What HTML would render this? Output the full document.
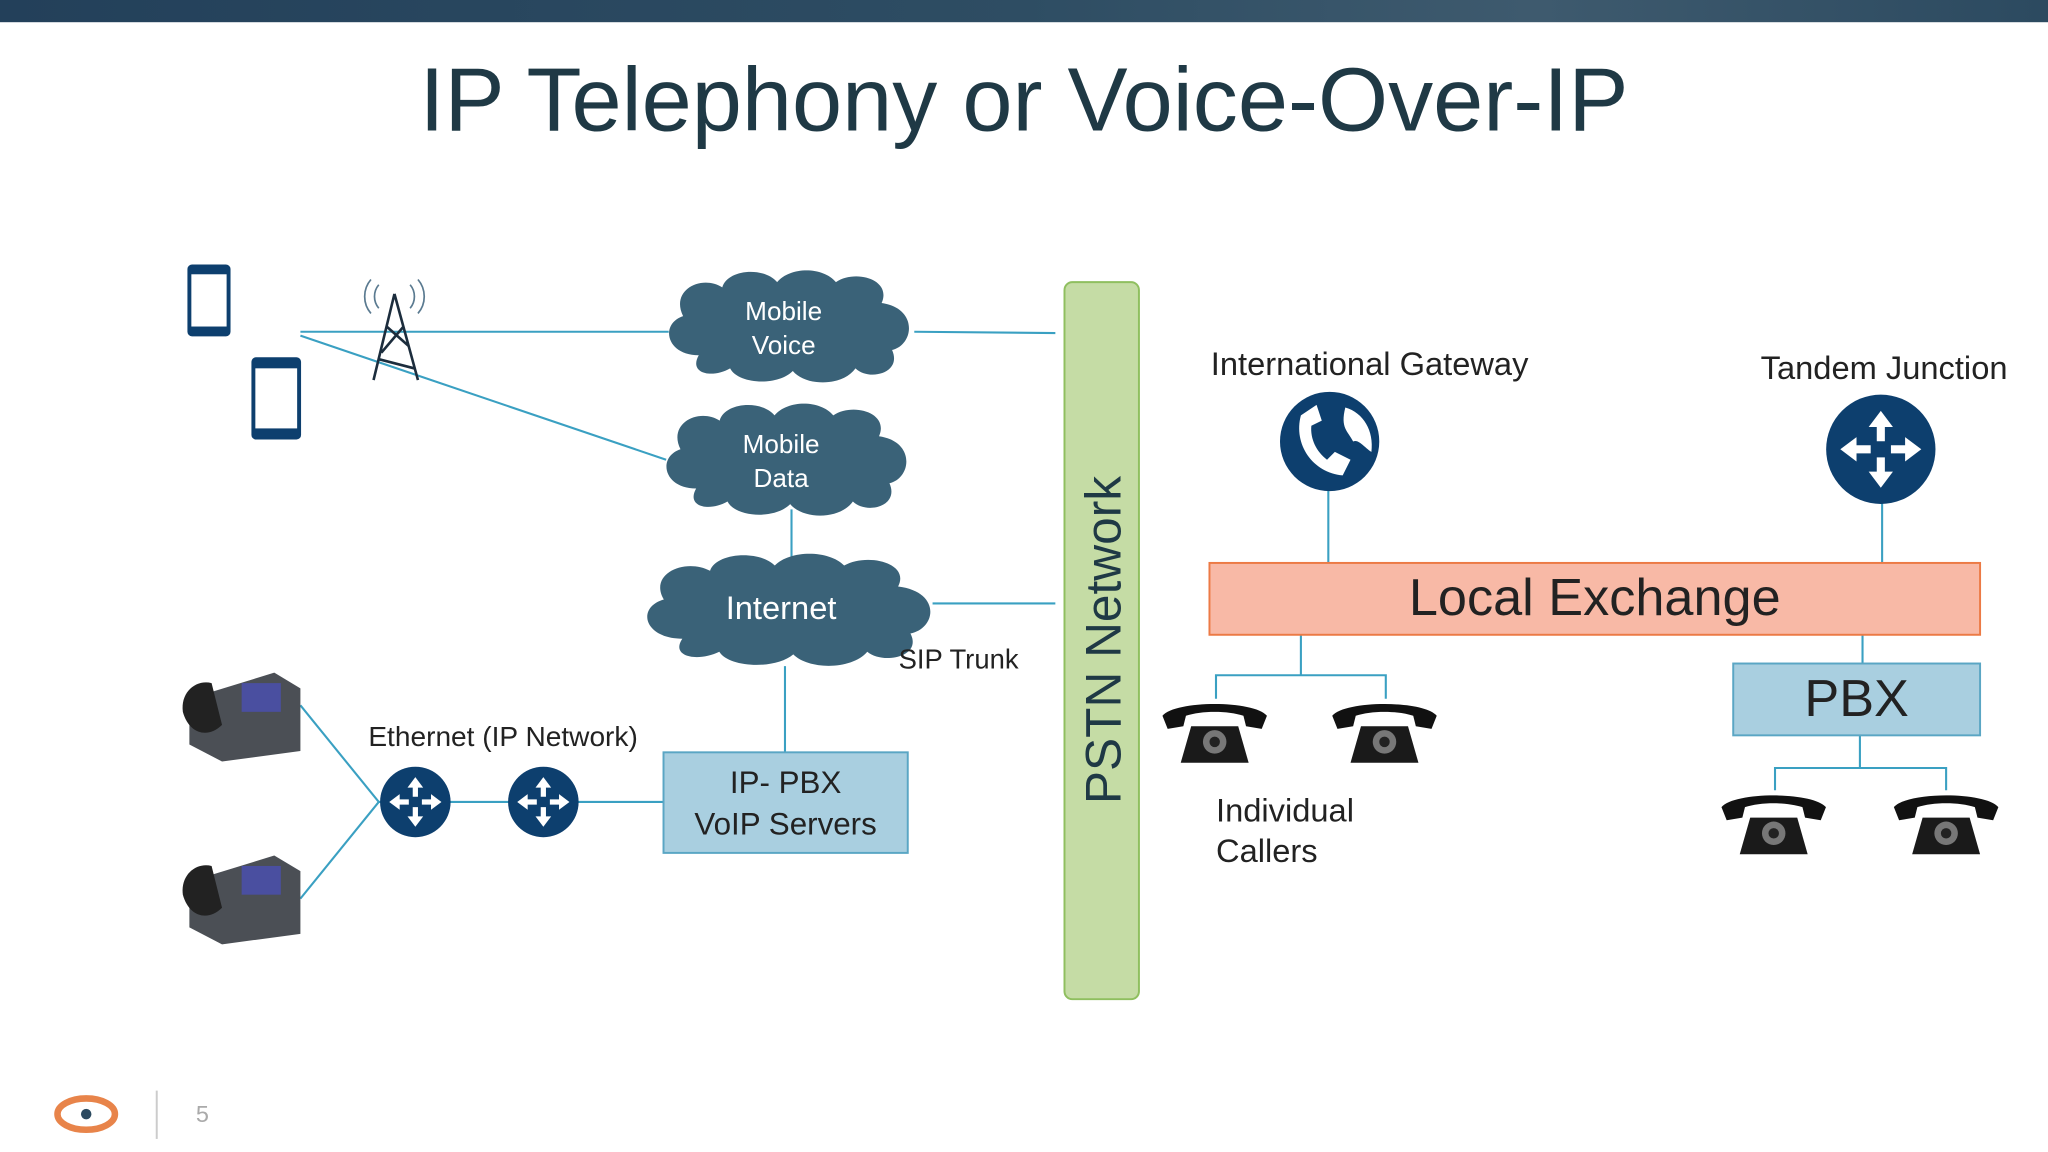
<!DOCTYPE html>
<html><head><meta charset="utf-8"><style>
html,body{margin:0;padding:0;background:#fff;overflow:hidden}
#w{width:1568px;height:882px;transform:scale(1.30612);transform-origin:0 0;position:relative;font-family:"Liberation Sans",sans-serif}
.t{position:absolute;white-space:nowrap}
</style></head><body><div id="w">
<div style="position:absolute;left:0;top:0;width:1568px;height:17px;background:linear-gradient(90deg,#23405a,#2e4d63 50%,#3e5a6e 75%,#2c4a60)"></div>
<div class="t" style="left:0;width:1568px;text-align:center;top:37px;font-size:69px;color:#1f3945">IP Telephony or Voice-Over-IP</div>
<svg width="1568" height="882" style="position:absolute;left:0;top:0">
<defs>
<g id="cl"><path d="M-70,22 C-95,22 -100,-2 -82,-8 C-92,-28 -68,-40 -52,-30 C-48,-44 -20,-46 -10,-34 C0,-46 25,-46 35,-34 C50,-44 78,-36 70,-18 C98,-14 95,14 78,18 C86,36 60,42 50,32 C40,46 12,46 2,34 C-10,46 -40,44 -46,32 C-60,40 -78,36 -70,22Z" fill="#3a6278"/></g>
<g id="rt"><circle r="27" fill="#0d3f6e"/><g fill="#fff"><path d="M0,-19 L-6,-11 L-2,-11 L-2,-4 L2,-4 L2,-11 L6,-11Z"/><path d="M0,19 L-6,11 L-2,11 L-2,4 L2,4 L2,11 L6,11Z"/><path d="M-20,0 L-12,-6 L-12,-2 L-5,-2 L-5,2 L-12,2 L-12,6Z"/><path d="M20,0 L12,-6 L12,-2 L5,-2 L5,2 L12,2 L12,6Z"/></g></g>
<g id="op"><path d="M-40,-14 C-30,-26 30,-26 40,-14 L36,-4 L24,-6 L22,-14 C10,-18 -10,-18 -22,-14 L-24,-6 L-36,-4Z" fill="#111"/><path d="M-18,-6 L18,-6 L26,22 L-26,22Z" fill="#1a1a1a"/><circle cx="0" cy="6" r="9" fill="#777"/><circle cx="0" cy="6" r="4" fill="#222"/></g>
<g id="dp"><path d="M5,20 L70,0 L90,12 L90,60 L30,68 L5,55Z" fill="#4b4f55"/><rect x="45" y="8" width="30" height="22" fill="#4a4fa0"/><path d="M0,30 C-2,15 10,5 22,8 L30,40 C20,50 5,48 0,30Z" fill="#222"/></g>
</defs>
<g stroke="#3aa0c2" stroke-width="1.6" fill="none">
<line x1="230" y1="254" x2="512" y2="254"/><line x1="230" y1="257" x2="510" y2="352"/>
<line x1="700" y1="254" x2="808" y2="255"/><line x1="606" y1="390" x2="606" y2="432"/>
<line x1="714" y1="462" x2="808" y2="462"/><line x1="601" y1="510" x2="601" y2="576"/>
<line x1="230" y1="540" x2="290" y2="614"/><line x1="290" y1="614" x2="230" y2="688"/>
<line x1="290" y1="614" x2="392" y2="614"/><line x1="440" y1="614" x2="508" y2="614"/>
<line x1="1017" y1="372" x2="1017" y2="431"/><line x1="1441" y1="385" x2="1441" y2="431"/>
<path d="M996,486 V517 M931,535 V517 H1061 V535"/>
<path d="M1426,486 V508 M1424,563 V588 M1359,605 V588 H1490 V605"/>
</g>
<g fill="none" stroke="#0d3f6e" stroke-width="3"><rect x="145" y="204" width="30" height="52" rx="2"/><rect x="194" y="275" width="35" height="60" rx="2"/></g>
<g fill="#0d3f6e"><rect x="145" y="204" width="30" height="6"/><rect x="145" y="250" width="30" height="6"/><rect x="194" y="275" width="35" height="7"/><rect x="194" y="328" width="35" height="7"/></g>
<g stroke="#1c2d3d" stroke-width="2" fill="none"><path d="M302,225 L286,291 M302,225 L320,291 M296,250 L313,265 M309,250 L292,270 M290,275 L317,282"/><path d="M290,218 a14,14 0 0 0 0,18 M284,214 a20,20 0 0 0 0,26 M314,218 a14,14 0 0 1 0,18 M320,214 a20,20 0 0 1 0,26" stroke="#5a7a90" stroke-width="1.3"/></g>
<use href="#cl" x="605" y="250"/><use href="#cl" x="603" y="352"/>
<use href="#cl" transform="translate(605,467) scale(1.18,1.0)"/>
<use href="#rt" x="318" y="614"/><use href="#rt" x="416" y="614"/>
<use href="#rt" transform="translate(1440,344) scale(1.55)"/>
<circle cx="1018" cy="338" r="38" fill="#0d3f6e"/>
<path d="M996,318 C990,340 1005,362 1028,364 L1034,352 L1022,346 L1016,352 C1008,346 1003,336 1004,326 L1012,322 L1008,310Z" fill="#fff"/>
<path d="M1030,312 C1044,316 1052,330 1050,346 C1044,342 1040,336 1036,338 C1032,330 1026,328 1030,312Z" fill="#fff"/>
<use href="#dp" x="140" y="515"/><use href="#dp" x="140" y="655"/>
<use href="#op" x="930" y="562"/><use href="#op" x="1060" y="562"/><use href="#op" x="1358" y="632"/><use href="#op" x="1490" y="632"/>
<rect x="815" y="216" width="57" height="549" rx="6" fill="#c5dca5" stroke="#8fbf5f" stroke-width="1.5"/>
<rect x="508" y="576" width="187" height="77" fill="#a9cfe0" stroke="#5aa6c4" stroke-width="1.5"/>
<rect x="926" y="431" width="590" height="55" fill="#f8b9a6" stroke="#ec7a45" stroke-width="1.5"/>
<rect x="1327" y="508" width="189" height="55" fill="#a9cfe0" stroke="#5aa6c4" stroke-width="1.5"/>
<text x="858" y="490" transform="rotate(-90 858 490)" text-anchor="middle" font-family="Liberation Sans" font-size="38" fill="#1f3945">PSTN Network</text>
<ellipse cx="66" cy="853" rx="22" ry="12" fill="none" stroke="#e8844a" stroke-width="5"/><circle cx="66" cy="853" r="4" fill="#2c4a60"/>
<line x1="120" y1="835" x2="120" y2="872" stroke="#ccc" stroke-width="1.5"/>
</svg>
<div class="t" style="left:540px;top:226px;width:120px;text-align:center;font-size:20px;line-height:26px;color:#fff">Mobile<br>Voice</div>
<div class="t" style="left:538px;top:328px;width:120px;text-align:center;font-size:20px;line-height:26px;color:#fff">Mobile<br>Data</div>
<div class="t" style="left:538px;top:452px;width:120px;text-align:center;font-size:25px;color:#fff">Internet</div>
<div class="t" style="left:688px;top:494px;font-size:21px;color:#222">SIP Trunk</div>
<div class="t" style="left:282px;top:552px;font-size:21.5px;color:#222">Ethernet (IP Network)</div>
<div class="t" style="left:508px;top:584px;width:187px;text-align:center;font-size:24px;line-height:32px;color:#222">IP- PBX<br>VoIP Servers</div>
<div class="t" style="left:927px;top:265px;font-size:25px;color:#222">International Gateway</div>
<div class="t" style="left:1348px;top:268px;font-size:25px;color:#222">Tandem Junction</div>
<div class="t" style="left:926px;top:436px;width:590px;text-align:center;font-size:40px;color:#222">Local Exchange</div>
<div class="t" style="left:1327px;top:513px;width:189px;text-align:center;font-size:40px;color:#222">PBX</div>
<div class="t" style="left:931px;top:606px;font-size:25px;line-height:31px;color:#222">Individual<br>Callers</div>
<div class="t" style="left:150px;top:843px;font-size:18px;color:#aaa">5</div>
</div></body></html>
